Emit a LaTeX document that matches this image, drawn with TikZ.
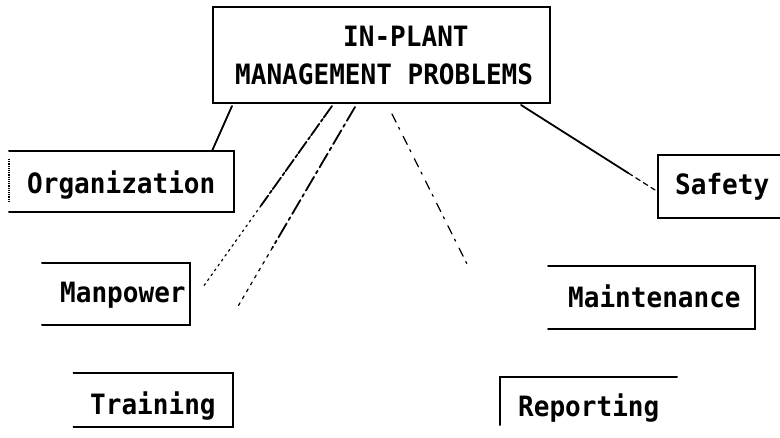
\documentclass[tikz,border=0pt]{standalone}
\usepackage{fontspec}
\setmonofont[FakeStretch=0.93]{DejaVu Sans Mono}
\usetikzlibrary{calc}
\begin{document}
\begin{tikzpicture}[x=1pt,y=-1pt,
  lbl/.style={anchor=base west, inner sep=0pt, font=\ttfamily\bfseries\fontsize{28}{32}\selectfont},
  frame/.style={inner sep=0pt, outer sep=0pt},
  edge/.style={line width=2pt, line cap=round},
  conn/.style={line width=1.8pt, line cap=round}]
\useasboundingbox (0,0) rectangle (780,438);
\fill[white] (0,0) rectangle (780,438);

% frames
\node[frame, draw, line width=2pt, minimum width=337pt, minimum height=96pt] (top) at (381.5,55) {};
\node[frame, minimum width=225pt, minimum height=61pt] (org) at (121.5,181.5) {};
\node[frame, minimum width=148pt, minimum height=62pt] (man) at (116,294) {};
\node[frame, minimum width=159pt, minimum height=54pt] (tra) at (153,400) {};
\node[frame, minimum width=124pt, minimum height=63pt] (saf) at (720,186.5) {};
\node[frame, minimum width=207pt, minimum height=63pt] (mai) at (651.5,297.5) {};
\node[frame, minimum width=177pt, minimum height=44pt] (rep) at (588.5,399) {};

\draw[edge] (org.north west) -- (org.north east) -- (org.south east) -- (org.south west);
\draw[line width=1.2pt, densely dotted] ([yshift=-8pt]org.north west) -- ([yshift=10pt]org.south west);
\draw[edge] (man.north west) -- (man.north east) -- (man.south east) -- (man.south west);
\draw[edge] (tra.north west) -- (tra.north east) -- (tra.south east) -- (tra.south west);
\draw[edge] (saf.north east) -- (saf.north west) -- (saf.south west) -- (saf.south east);
\draw[edge] (mai.north west) -- (mai.north east) -- (mai.south east) -- (mai.south west);
\draw[edge] (rep.north east) -- (rep.north west) -- ([yshift=-4pt]rep.south west);

% texts
\node[lbl] (t1) at (343,47) {IN-PLANT};
\node[lbl] (t2) at (235,85) {MANAGEMENT PROBLEMS};
\node[lbl] (torg) at (27,194) {Organization};
\node[lbl] (tman) at (60,303) {Manpower};
\node[lbl] (ttra) at (90,415) {Training};
\node[lbl] (tsaf) at (675,195) {Safety};
\node[lbl] (tmai) at (568,308) {Maintenance};
\node[lbl] (trep) at (518,417) {Reporting};

% connector end points
\coordinate (s1) at (232,106);
\coordinate (s2) at (332,106);
\coordinate (s3) at (355,107);
\coordinate (s4) at (392,114);
\coordinate (s5) at (521,105);
\coordinate (e1) at (212,151);
\coordinate (e2) at (203,287);
\coordinate (e3) at (237,308);
\coordinate (e4) at (470,270);
\coordinate (e5) at (655,190);

\draw[conn] (s1) -- (e1);
\draw[conn, dash pattern=on 14pt off 2pt on 3pt off 3pt] (s2) -- ($(s2)!0.55!(e2)$);
\draw[conn, line width=1.2pt, dash pattern=on 2pt off 4pt] ($(s2)!0.55!(e2)$) -- (e2);
\draw[conn, dash pattern=on 16pt off 4pt on 3pt off 4pt] (s3) -- ($(s3)!0.7!(e3)$);
\draw[conn, line width=1.2pt, dash pattern=on 3pt off 5pt] ($(s3)!0.7!(e3)$) -- (e3);
\draw[conn, line width=1.3pt, dash pattern=on 9pt off 6pt on 2pt off 8pt] (s4) -- (e4);
\draw[conn] (s5) -- ($(s5)!0.8!(e5)$);
\draw[conn, line width=1.2pt, dash pattern=on 5pt off 4pt] ($(s5)!0.8!(e5)$) -- (e5);
\end{tikzpicture}
\end{document}
